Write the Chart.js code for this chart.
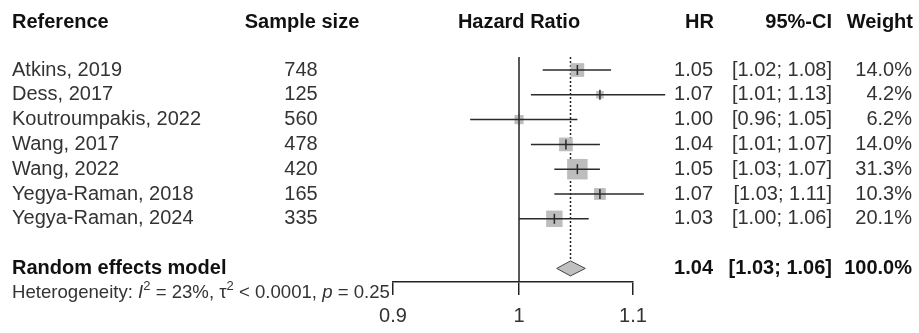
<!DOCTYPE html>
<html>
<head>
<meta charset="utf-8">
<script src="https://cdn.jsdelivr.net/npm/chart.js@4/dist/chart.umd.min.js"></script>
<style>
    html, body { margin: 0; padding: 0; background: #fff; }
</style>
</head>
<body>
<canvas id="forest" width="919" height="333"></canvas>
<script>
// Study data
const studies = ["Atkins, 2019", "Dess, 2017", "Koutroumpakis, 2022", "Wang, 2017", "Wang, 2022", "Yegya-Raman, 2018", "Yegya-Raman, 2024"];
const sampleSizes = [748, 125, 560, 478, 420, 165, 335];
const hr = [1.05, 1.07, 1.00, 1.04, 1.05, 1.07, 1.03];
const ciLow = [1.02, 1.01, 0.96, 1.01, 1.03, 1.03, 1.00];
const ciHigh = [1.08, 1.13, 1.05, 1.07, 1.07, 1.11, 1.06];
const weights = [14.0, 4.2, 6.2, 14.0, 31.3, 10.3, 20.1];

// Random effects model
const pooledLabel = "Random effects model";
const pooledHr = 1.044;
const pooledLow = 1.032;
const pooledHigh = 1.057;
const pooledWeight = 100.0;

// Heterogeneity
const i2 = 23;
const tau2Text = "< 0.0001";
const pHet = "0.25";

const xTicks = [0.9, 1, 1.1];

const FONT = "'Liberation Sans', Arial, sans-serif";
const TEXT = "#333";
const BOLD = "#111";

let rows = studies.map((s, i) => i + 1);
let pooledRow = studies.length + 2;
let maxWeight = Math.max(...weights);

// square side ~20px for the biggest weight, area follows the weight
let squareRadius = weights.map((w) => 20.5 * Math.sqrt(w / maxWeight) / Math.SQRT2);

function line(ctx, x1, y1, x2, y2) {
    ctx.beginPath();
    ctx.moveTo(x1, y1);
    ctx.lineTo(x2, y2);
    ctx.stroke();
}

const forestMarks = {
    id: 'forestMarks',
    beforeDatasetsDraw(chart) {
        let ctx = chart.ctx;
        let xs = chart.scales.x;
        let ys = chart.scales.y;
        let area = chart.chartArea;
        ctx.save();
        ctx.strokeStyle = "#222";
        ctx.lineWidth = 1.5;
        // line of no effect
        let x1 = xs.getPixelForValue(1);
        line(ctx, x1, area.top, x1, area.bottom);
        // pooled estimate, dotted
        let xp = xs.getPixelForValue(pooledHr);
        ctx.setLineDash([2, 2]);
        line(ctx, xp, area.top, xp, ys.getPixelForValue(pooledRow) - 7.5);
        ctx.restore();
    },
    afterDatasetsDraw(chart) {
        let ctx = chart.ctx;
        let xs = chart.scales.x;
        let ys = chart.scales.y;
        ctx.save();
        ctx.strokeStyle = "#2a2a2a";
        ctx.lineWidth = 1.5;
        for (let i = 0; i < studies.length; i++) {
            let y = ys.getPixelForValue(rows[i]);
            line(ctx, xs.getPixelForValue(ciLow[i]), y, xs.getPixelForValue(ciHigh[i]), y);
            let xh = xs.getPixelForValue(hr[i]);
            line(ctx, xh, y - 5, xh, y + 5);
        }
        // diamond
        let yd = ys.getPixelForValue(pooledRow);
        let xc = xs.getPixelForValue(pooledHr);
        ctx.beginPath();
        ctx.moveTo(xs.getPixelForValue(pooledLow), yd);
        ctx.lineTo(xc, yd - 7.5);
        ctx.lineTo(xs.getPixelForValue(pooledHigh), yd);
        ctx.lineTo(xc, yd + 7.5);
        ctx.closePath();
        ctx.fillStyle = "#c0c0c0";
        ctx.fill();
        ctx.lineWidth = 1;
        ctx.strokeStyle = "#444";
        ctx.stroke();
        ctx.restore();
    }
};

const forestText = {
    id: 'forestText',
    afterDraw(chart) {
        let ctx = chart.ctx;
        let ys = chart.scales.y;
        let xs = chart.scales.x;
        ctx.save();
        ctx.textBaseline = "middle";

        // headers
        ctx.font = "bold 20px " + FONT;
        ctx.fillStyle = BOLD;
        ctx.textAlign = "left";
        ctx.fillText("Reference", 12, 22);
        ctx.textAlign = "center";
        ctx.fillText("Sample size", 302, 22);
        ctx.fillText("Hazard Ratio", xs.getPixelForValue(1), 22);
        ctx.textAlign = "right";
        ctx.fillText("HR", 714, 22);
        ctx.fillText("95%-CI", 832, 22);
        ctx.fillText("Weight", 913, 22);

        // study rows
        ctx.font = "20px " + FONT;
        ctx.fillStyle = TEXT;
        for (let i = 0; i < studies.length; i++) {
            let y = ys.getPixelForValue(rows[i]);
            ctx.textAlign = "left";
            ctx.fillText(studies[i], 12, y);
            ctx.textAlign = "center";
            ctx.fillText(String(sampleSizes[i]), 301, y);
            ctx.textAlign = "right";
            ctx.fillText(hr[i].toFixed(2), 713, y);
            ctx.fillText("[" + ciLow[i].toFixed(2) + "; " + ciHigh[i].toFixed(2) + "]", 832, y);
            ctx.fillText(weights[i].toFixed(1) + "%", 912, y);
        }

        // pooled row
        let yp = ys.getPixelForValue(pooledRow);
        ctx.font = "bold 20px " + FONT;
        ctx.fillStyle = BOLD;
        ctx.textAlign = "left";
        ctx.fillText(pooledLabel, 12, yp);
        ctx.textAlign = "right";
        ctx.fillText(pooledHr.toFixed(2), 713, yp);
        ctx.fillText("[" + pooledLow.toFixed(2) + "; " + pooledHigh.toFixed(2) + "]", 832, yp);
        ctx.fillText(pooledWeight.toFixed(1) + "%", 912, yp);

        // heterogeneity line, piece by piece for italics and superscripts
        let parts = [
            ["Heterogeneity: ", "", false],
            ["I", "italic ", false],
            ["2", "", true],
            [" = " + i2 + "%, ", "", false],
            ["\u03c4", "", false],
            ["2", "", true],
            [" " + tau2Text + ", ", "", false],
            ["p", "italic ", false],
            [" = " + pHet, "", false]
        ];
        ctx.textAlign = "left";
        ctx.textBaseline = "alphabetic";
        ctx.fillStyle = TEXT;
        let x = 12;
        let base = 298;
        for (let p of parts) {
            ctx.font = p[2] ? "13px " + FONT : p[1] + "18.6px " + FONT;
            ctx.fillText(p[0], x, p[2] ? base - 8 : base);
            x += ctx.measureText(p[0]).width;
        }
        ctx.restore();
    }
};

new Chart(document.getElementById("forest"), {
    type: 'scatter',
    data: {
        datasets: [{
            data: studies.map((s, i) => ({ x: hr[i], y: rows[i] })),
            pointStyle: 'rect',
            pointRadius: squareRadius,
            backgroundColor: "#bdbdbd",
            borderWidth: 0,
            clip: false
        }]
    },
    options: {
        responsive: false,
        animation: false,
        events: [],
        layout: {
            padding: { left: 393, right: 286, top: 57, bottom: 5 }
        },
        scales: {
            x: {
                type: 'logarithmic',
                min: 0.9,
                max: 1.1,
                afterBuildTicks: (axis) => {
                    axis.ticks = xTicks.map((v) => ({ value: v }));
                },
                // keep the axis band at a fixed height so the plot ends at the axis line
                afterFit: (axis) => {
                    axis.height = 46;
                },
                grid: { drawOnChartArea: false, drawTicks: true, tickLength: 13, color: "#222", lineWidth: 1.5 },
                border: { display: true, color: "#222", width: 1.5 },
                ticks: {
                    callback: (v) => String(v),
                    font: { family: FONT, size: 20 },
                    color: TEXT,
                    padding: 9,
                    maxRotation: 0,
                    autoSkip: false
                }
            },
            y: {
                type: 'linear',
                display: false,
                reverse: true,
                min: 0.476,
                max: 9.548
            }
        },
        plugins: {
            legend: { display: false },
            tooltip: { enabled: false }
        }
    },
    plugins: [forestMarks, forestText]
});
</script>
</body>
</html>
